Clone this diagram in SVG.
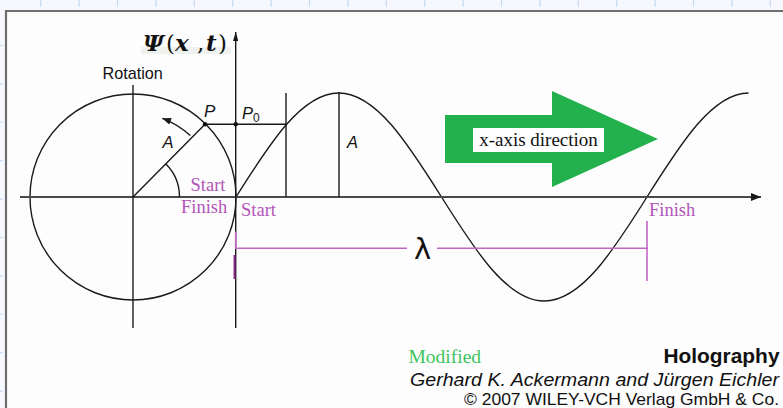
<svg xmlns="http://www.w3.org/2000/svg" width="783" height="408" viewBox="0 0 783 408">
  <defs>
    <style>
      .ln { stroke: #1a1a1a; stroke-width: 1.4; fill: none; }
      .pl { stroke: #c266c6; stroke-width: 1.6; fill: none; }
      .tick { stroke: #c5daf3; stroke-width: 1.2; }
      .sans { font-family: "Liberation Sans", Arial, sans-serif; }
      .serif { font-family: "Liberation Serif", "Times New Roman", serif; }
      .it { font-style: italic; }
      .purple { fill: #b255b8; font-size: 18.5px; }
    </style>
    <marker id="ah" viewBox="0 0 10 8" refX="10" refY="4" markerWidth="10" markerHeight="8" markerUnits="userSpaceOnUse" orient="auto">
      <path d="M0,0 L10,4 L0,8 Z" fill="#1a1a1a"/>
    </marker>
    <marker id="ahr" viewBox="0 0 10 8" refX="10" refY="4" markerWidth="9" markerHeight="7" markerUnits="userSpaceOnUse" orient="auto">
      <path d="M0,0 L10,4 L0,8 Z" fill="#1a1a1a"/>
    </marker>
    <marker id="ahs" viewBox="0 0 10 6" refX="10" refY="3" markerWidth="9" markerHeight="5.5" markerUnits="userSpaceOnUse" orient="auto">
      <path d="M0,0 L10,3 L0,6 Z" fill="#1a1a1a"/>
    </marker>
  </defs>

  <!-- page background and frame -->
  <g id="frame">
    <rect x="0" y="0" width="783" height="408" fill="#f6f8fd"/>
    <rect x="6" y="11" width="777" height="397" fill="#fdfdfd"/>
    <g class="tick">
      <line x1="40.7" y1="0" x2="40.7" y2="7"/><line x1="79.1" y1="0" x2="79.1" y2="7"/>
      <line x1="117.5" y1="0" x2="117.5" y2="7"/><line x1="155.9" y1="0" x2="155.9" y2="7"/>
      <line x1="194.3" y1="0" x2="194.3" y2="7"/><line x1="232.7" y1="0" x2="232.7" y2="7"/>
      <line x1="271.1" y1="0" x2="271.1" y2="7"/><line x1="309.5" y1="0" x2="309.5" y2="7"/>
      <line x1="347.9" y1="0" x2="347.9" y2="7"/><line x1="386.3" y1="0" x2="386.3" y2="7"/>
      <line x1="424.7" y1="0" x2="424.7" y2="7"/><line x1="463.1" y1="0" x2="463.1" y2="7"/>
      <line x1="501.5" y1="0" x2="501.5" y2="7"/><line x1="539.9" y1="0" x2="539.9" y2="7"/>
      <line x1="578.3" y1="0" x2="578.3" y2="7"/><line x1="616.7" y1="0" x2="616.7" y2="7"/>
      <line x1="655.1" y1="0" x2="655.1" y2="7"/><line x1="693.5" y1="0" x2="693.5" y2="7"/>
      <line x1="731.9" y1="0" x2="731.9" y2="7"/><line x1="770.3" y1="0" x2="770.3" y2="7"/>
      <line x1="0" y1="45.5" x2="3" y2="45.5"/><line x1="0" y1="83.9" x2="3" y2="83.9"/>
      <line x1="0" y1="122.3" x2="3" y2="122.3"/><line x1="0" y1="160.7" x2="3" y2="160.7"/>
      <line x1="0" y1="199.1" x2="3" y2="199.1"/><line x1="0" y1="237.5" x2="3" y2="237.5"/>
      <line x1="0" y1="275.9" x2="3" y2="275.9"/><line x1="0" y1="314.3" x2="3" y2="314.3"/>
      <line x1="0" y1="352.7" x2="3" y2="352.7"/><line x1="0" y1="391.1" x2="3" y2="391.1"/>
    </g>
    <line x1="5" y1="11" x2="783" y2="11" stroke="#6e6e6e" stroke-width="2.2"/>
    <line x1="6" y1="10" x2="6" y2="408" stroke="#6e6e6e" stroke-width="2.2"/>
  </g>

  <!-- green direction arrow -->
  <g id="direction-arrow">
    <polygon points="445,115 552,115 552,91 658,139 552,187 552,163 445,163" fill="#22b14c"/>
    <rect x="473" y="128" width="131" height="24" fill="#ffffff"/>
    <text x="538.5" y="146" text-anchor="middle" class="serif" font-size="19" fill="#111">x-axis direction</text>
  </g>

  <!-- rotation circle -->
  <g id="circle">
    <circle cx="133" cy="197" r="103" class="ln" stroke-width="1.6"/>
  </g>

  <!-- sine wave -->
  <g id="wave">
    <path class="ln" stroke-width="1.6" d="M236,197 C269.51,143.72 301.56,93 338.75,93 C375.94,93 407.99,143.72 441.5,197 C475.01,250.28 507.06,301 544.25,301 C581.44,301 613.49,250.28 647,197 C680.51,143.72 712.56,93 748.5,93"/>
  </g>

  <!-- connectors: axes, radius, guide lines -->
  <g id="connectors">
    <line x1="20" y1="197" x2="761" y2="197" stroke="#4a4a4a" stroke-width="2" marker-end="url(#ah)"/>
    <line x1="235.7" y1="328" x2="235.7" y2="32" class="ln" marker-end="url(#ahs)"/>
    <line x1="133" y1="85" x2="133" y2="328" class="ln"/>
    <line x1="133" y1="197" x2="205" y2="124.3" class="ln"/>
    <line x1="205" y1="124.3" x2="286" y2="124.3" class="ln"/>
    <line x1="286" y1="93" x2="286" y2="197" class="ln"/>
    <line x1="339" y1="92" x2="339" y2="197" class="ln"/>
    <path d="M179.5,197 A46.5,46.5 0 0 0 165.9,164.1" class="ln" stroke-width="1.2"/>
    <path d="M190.3,135.6 A84,84 0 0 0 162.3,118.3" class="ln" stroke-width="1.2" marker-end="url(#ahr)"/>
    <circle cx="205" cy="124.3" r="2.2" fill="#111"/>
    <circle cx="235.7" cy="124.3" r="2.2" fill="#111"/>
    <!-- wavelength marker -->
    <line x1="235.7" y1="231.5" x2="235.7" y2="248.5" class="pl"/>
    <line x1="234.5" y1="255" x2="234.5" y2="279" stroke="#8a2a8e" stroke-width="2"/>
    <line x1="235" y1="248.3" x2="407" y2="248.3" class="pl"/>
    <line x1="437" y1="248.3" x2="648" y2="248.3" class="pl"/>
    <line x1="647" y1="221" x2="647" y2="281" class="pl"/>
  </g>

  <!-- labels -->
  <g id="labels">
    <rect x="141" y="47" width="90" height="7" fill="#eef1ee"/>
    <text y="51" font-family="DejaVu Serif, serif" font-size="23" fill="#111">
      <tspan x="143" font-weight="bold" font-style="italic">Ψ</tspan><tspan x="166">(</tspan><tspan x="175" font-weight="bold" font-style="italic">x</tspan><tspan x="197">,</tspan><tspan x="206" font-weight="bold" font-style="italic">t</tspan><tspan x="218">)</tspan>
    </text>
    <text x="102.5" y="79" class="sans" font-size="16.2" fill="#111">Rotation</text>
    <text x="204" y="117" class="sans it" font-size="17" fill="#111">P</text>
    <text x="242" y="118.5" class="sans it" font-size="16.5" fill="#111">P<tspan font-size="12" font-style="normal" dy="3.5">0</tspan></text>
    <text x="162.5" y="148.3" class="sans it" font-size="16.5" fill="#111">A</text>
    <text x="347" y="148.3" class="sans it" font-size="16.5" fill="#111">A</text>
    <text x="190.5" y="190.7" class="serif purple">Start</text>
    <text x="181" y="213.3" class="serif purple">Finish</text>
    <text x="241" y="215.5" class="serif purple">Start</text>
    <text x="649" y="215.5" class="serif purple">Finish</text>
    <text x="422.5" y="259" text-anchor="middle" font-family="DejaVu Sans, sans-serif" font-size="29" fill="#111">λ</text>
  </g>

  <!-- footer -->
  <g id="footer">
    <text x="408.5" y="363.3" class="serif" font-size="19.5" fill="#3cc45e">Modified</text>
    <text x="779.5" y="363.3" text-anchor="end" class="sans" font-size="20.9" font-weight="bold" fill="#111">Holography</text>
    <text x="779" y="386" text-anchor="end" class="sans it" font-size="17.5" textLength="369" lengthAdjust="spacingAndGlyphs" fill="#111">Gerhard K. Ackermann and Jürgen Eichler</text>
    <text x="779" y="405" text-anchor="end" class="sans" font-size="17" textLength="315" lengthAdjust="spacingAndGlyphs" fill="#111">© 2007 WILEY-VCH Verlag GmbH &amp; Co.</text>
  </g>
</svg>
